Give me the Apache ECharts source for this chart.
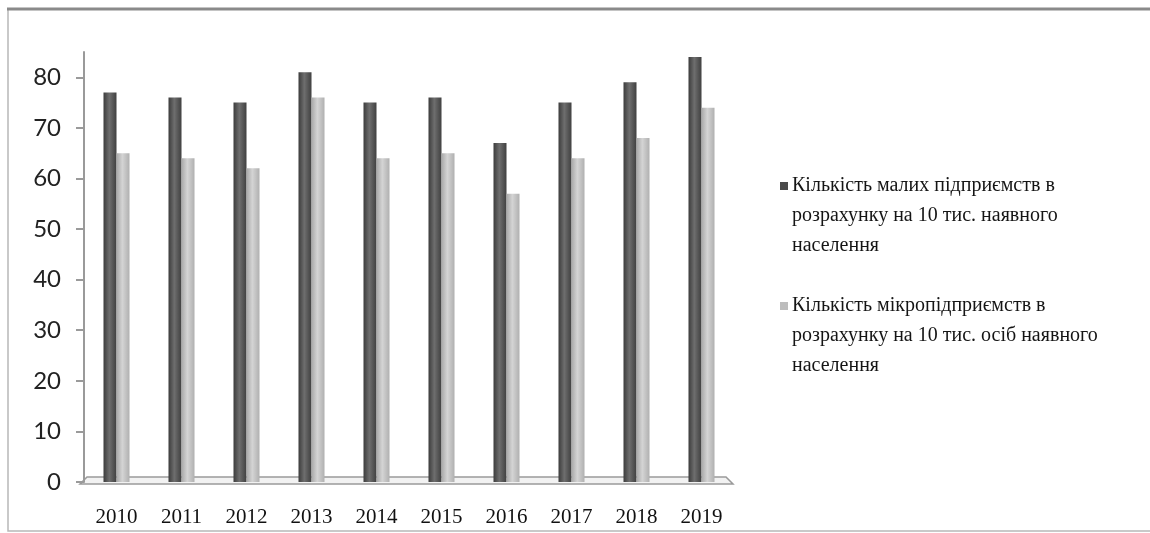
<!DOCTYPE html>
<html>
<head>
<meta charset="utf-8">
<script src="https://cdn.jsdelivr.net/npm/echarts@6/dist/echarts.min.js"></script>
<style>
html, body { margin: 0; padding: 0; background: #fff; }
#chart { width: 1150px; height: 533px; }
</style>
</head>
<body>
<div id="chart"></div>
<script>
// data
const years = ['2010', '2011', '2012', '2013', '2014', '2015', '2016', '2017', '2018', '2019'];
const smallEnterprises = [77, 76, 75, 81, 75, 76, 67, 75, 79, 84];
const microEnterprises = [65, 64, 62, 76, 64, 65, 57, 64, 68, 74];
const yTicks = [0, 10, 20, 30, 40, 50, 60, 70, 80];
const legendLines = [
	['Кількість малих підприємств в', 'розрахунку на 10 тис. наявного', 'населення'],
	['Кількість мікропідприємств в', 'розрахунку на 10 тис. осіб наявного', 'населення']
];
const seriesNames = legendLines.map(l => l.join(' '));

const gridLeft = 84, gridRight = 734, gridTop = 52, axisY = 482;

const chart = echarts.init(document.getElementById('chart'));

function barGradient(c1, c2, c3) {
	return new echarts.graphic.LinearGradient(0, 0, 1, 0, [
		{ offset: 0, color: c1 },
		{ offset: 0.45, color: c2 },
		{ offset: 1, color: c3 }
	]);
}

const option = {
	backgroundColor: '#fff',
	animation: false,
	grid: {
		left: gridLeft,
		right: 1150 - gridRight,
		top: gridTop,
		bottom: 533 - axisY
	},
	legend: {
		orient: 'vertical',
		left: 770,
		top: 171,
		itemWidth: 0,
		itemHeight: 0,
		itemGap: 40,
		icon: 'rect',
		selectedMode: false,
		data: seriesNames,
		formatter: function (name) {
			const idx = seriesNames.indexOf(name);
			const lines = legendLines[idx];
			const mk = idx === 0 ? '{m1|}' : '{m2|}';
			let s = mk + '{g|}{t|' + lines[0] + '}';
			for (let i = 1; i < lines.length; i++) {
				s += '\n{ind|}{t|' + lines[i] + '}';
			}
			return s;
		},
		textStyle: {
			rich: {
				m1: { width: 8, height: 8, backgroundColor: '#4a4a4a' },
				m2: { width: 8, height: 8, backgroundColor: '#bdbdbd' },
				g: { width: 4 },
				ind: { width: 12 },
				t: {
					fontFamily: '"Liberation Serif", "DejaVu Serif", serif',
					fontSize: 20,
					color: '#151515',
					lineHeight: 30
				}
			}
		}
	},
	xAxis: {
		type: 'category',
		data: years,
		axisLine: { show: false },
		axisTick: { show: false },
		axisLabel: {
			margin: 25,
			fontFamily: '"Liberation Serif", "DejaVu Serif", serif',
			fontSize: 21,
			color: '#111'
		}
	},
	yAxis: {
		type: 'value',
		min: 0,
		max: 85,
		interval: 10,
		axisLine: { show: true, lineStyle: { color: '#9a9a9a', width: 2 } },
		axisTick: {
			show: true,
			length: 8,
			customValues: yTicks,
			lineStyle: { color: '#9a9a9a', width: 2 }
		},
		axisLabel: {
			margin: 23,
			customValues: yTicks,
			fontFamily: 'Lato, "Open Sans", sans-serif',
			fontSize: 24,
			color: '#222'
		},
		splitLine: { show: false }
	},
	graphic: [
		{
			// frame: left, top, bottom
			type: 'polyline',
			z: 0,
			shape: { points: [[1150, 531], [8, 531], [8, 9]] },
			style: { fill: 'none', stroke: '#b8b8b8', lineWidth: 1.5 }
		},
		{
			type: 'line',
			z: 0,
			shape: { x1: 7, y1: 9, x2: 1150, y2: 9 },
			style: { stroke: '#8a8a8a', lineWidth: 3 }
		},
		{
			// 3d floor
			type: 'polygon',
			z: 0,
			shape: {
				points: [[gridLeft - 4, axisY + 2], [gridLeft + 3, axisY - 5], [gridRight - 8, axisY - 5], [gridRight - 1, axisY + 2]]
			},
			style: { fill: '#f2f2f2', stroke: '#9a9a9a', lineWidth: 1.5 }
		}
	],
	series: [
		{
			name: seriesNames[0],
			type: 'bar',
			data: smallEnterprises,
			barWidth: 13,
			barGap: '0%',
			z: 3,
			itemStyle: { color: barGradient('#3c3c3c', '#6e6e6e', '#404040') }
		},
		{
			name: seriesNames[1],
			type: 'bar',
			data: microEnterprises,
			barWidth: 13,
			z: 3,
			itemStyle: { color: barGradient('#a8a8a8', '#d4d4d4', '#b0b0b0') }
		}
	]
};

chart.setOption(option);
</script>
</body>
</html>
